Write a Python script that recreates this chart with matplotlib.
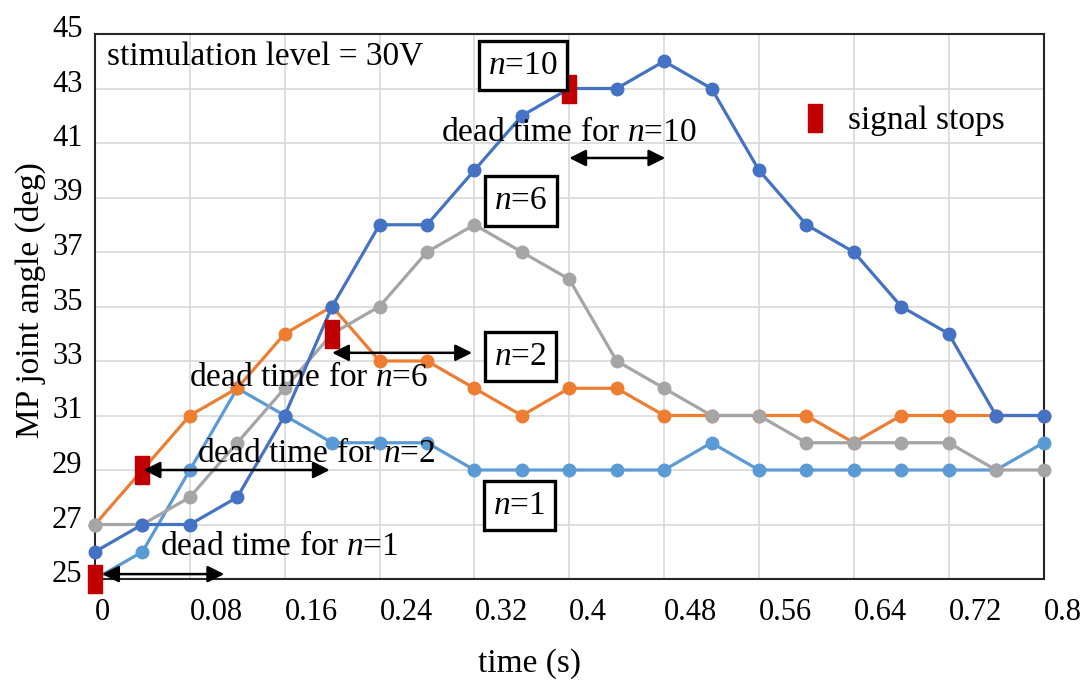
import matplotlib
matplotlib.use('Agg')
import matplotlib.pyplot as plt
from matplotlib.lines import Line2D
from matplotlib.path import Path
from matplotlib.transforms import ScaledTranslation
import numpy as np

plt.rcParams['font.family'] = ['Liberation Serif', 'DejaVu Serif']
plt.rcParams['mathtext.fontset'] = 'custom'
plt.rcParams['mathtext.rm'] = 'Liberation Serif'
plt.rcParams['mathtext.it'] = 'Liberation Serif:italic'

# data
time = [0, 0.04, 0.08, 0.12, 0.16, 0.2, 0.24, 0.28, 0.32, 0.36, 0.4,
        0.44, 0.48, 0.52, 0.56, 0.6, 0.64, 0.68, 0.72, 0.76, 0.8]
angle_n1 = [25, 26, 29, 32, 31, 30, 30, 30, 29, 29, 29,
            29, 29, 30, 29, 29, 29, 29, 29, 29, 30]
angle_n2 = [27, 29, 31, 32, 34, 35, 33, 33, 32, 31, 32,
            32, 31, 31, 31, 31, 30, 31, 31, 31, 31]
angle_n6 = [27, 27, 28, 30, 32, 34, 35, 37, 38, 37, 36,
            33, 32, 31, 31, 30, 30, 30, 30, 29, 29]
angle_n10 = [26, 27, 27, 28, 31, 35, 38, 38, 40, 42, 43,
             43, 44, 43, 40, 38, 37, 35, 34, 31, 31]
series_colors = ['#5B9BD5', '#ED7D31', '#A5A5A5', '#4472C4']

# signal stop markers
stop_t = [0, 0.04, 0.2, 0.4]
stop_angle = [25, 29, 34, 43]

# dead-time arrows (start, end, level)
arrow_start = [0.006, 0.041, 0.2, 0.4]
arrow_end = [0.109, 0.198, 0.318, 0.481]
arrow_level = [25.18, 29.0, 33.3, 40.45]
dead_labels = ['dead time for $n$=1', 'dead time for $n$=2',
               'dead time for $n$=6', 'dead time for $n$=10']
dead_label_x = [0.155, 0.187, 0.18, 0.40]
dead_label_y = [26.17, 29.59, 32.38, 41.37]

# boxed n labels
box_labels = ['$n$=1', '$n$=2', '$n$=6', '$n$=10']
box_x = [0.358, 0.3585, 0.359, 0.361]
box_y = [27.7, 33.15, 38.87, 43.84]

xticks = [0, 0.08, 0.16, 0.24, 0.32, 0.4, 0.48, 0.56, 0.64, 0.72, 0.8]
xticklabels = ['0', '0.08', '0.16', '0.24', '0.32', '0.4', '0.48', '0.56', '0.64', '0.72', '0.8']
yticks = [25, 27, 29, 31, 33, 35, 37, 39, 41, 43, 45]

fs = 24
tfs = 22

fig = plt.figure(figsize=(10.86, 6.89), dpi=100)
ax = fig.add_axes([95/1086, 1 - 579/689, (1043.5-95)/1086, (579-34)/689])

for ys, c in zip([angle_n1, angle_n2, angle_n6, angle_n10], series_colors):
    ax.plot(time, ys, color=c, lw=2.3, marker='o', ms=9, clip_on=False, zorder=3)

# rectangle marker for signal stop
rect = Path([(-0.23, -0.5), (0.23, -0.5), (0.23, 0.5), (-0.23, 0.5), (-0.23, -0.5)],
            [Path.MOVETO, Path.LINETO, Path.LINETO, Path.LINETO, Path.CLOSEPOLY])
ax.plot(stop_t, stop_angle, ls='', marker=rect, ms=20.5, color='#C00000',
        clip_on=False, zorder=5)

for x0, x1, yv in zip(arrow_start, arrow_end, arrow_level):
    ax.annotate('', xy=(x1, yv), xytext=(x0, yv),
                arrowprops=dict(arrowstyle='<|-|>', color='black', lw=1.8,
                                mutation_scale=25, shrinkA=0, shrinkB=0),
                zorder=6)

for s, x, y in zip(dead_labels, dead_label_x, dead_label_y):
    ax.text(x, y, s, ha='center', va='center', fontsize=fs, zorder=7)

for s, x, y in zip(box_labels, box_x, box_y):
    ax.text(x, y, s, ha='center', va='center', fontsize=fs, zorder=7,
            bbox=dict(boxstyle='square,pad=0.28', fc='white', ec='black', lw=2.4))

ax.text(0.0101, 44.16, 'stimulation level = 30V', ha='left', va='center', fontsize=fs)

handle = Line2D([], [], ls='', marker=rect, ms=20.5, color='#C00000')
ax.legend([handle], ['signal stops'], loc='center left', bbox_to_anchor=(0.713, 0.84),
          frameon=False, fontsize=fs, handlelength=0.8, handletextpad=0.6)

ax.set_xlim(0, 0.8)
ax.set_ylim(25, 45)
ax.set_xticks(xticks)
ax.set_xticklabels(xticklabels, fontsize=tfs, ha='left')
ax.set_yticks(yticks)
ax.set_yticklabels([str(v) for v in yticks], fontsize=tfs)
ax.tick_params(axis='both', length=0)
ax.tick_params(axis='x', pad=14)
ax.tick_params(axis='y', pad=9)
for lab in ax.get_yticklabels():
    lab.set_transform(lab.get_transform() + ScaledTranslation(0, 0.08, fig.dpi_scale_trans))
ax.grid(True, color='#D9D9D9', lw=1.2)
ax.set_axisbelow(True)
for sp in ax.spines.values():
    sp.set_color('#262626')
    sp.set_linewidth(1.5)

fig.text(30/1086, 1 - 300/689, 'MP joint angle (deg)', rotation=90, ha='center', va='center', fontsize=fs)
fig.text(530/1086, 1 - 664/689, 'time (s)', ha='center', va='center', fontsize=fs)

fig.savefig('out.png', dpi=100)
